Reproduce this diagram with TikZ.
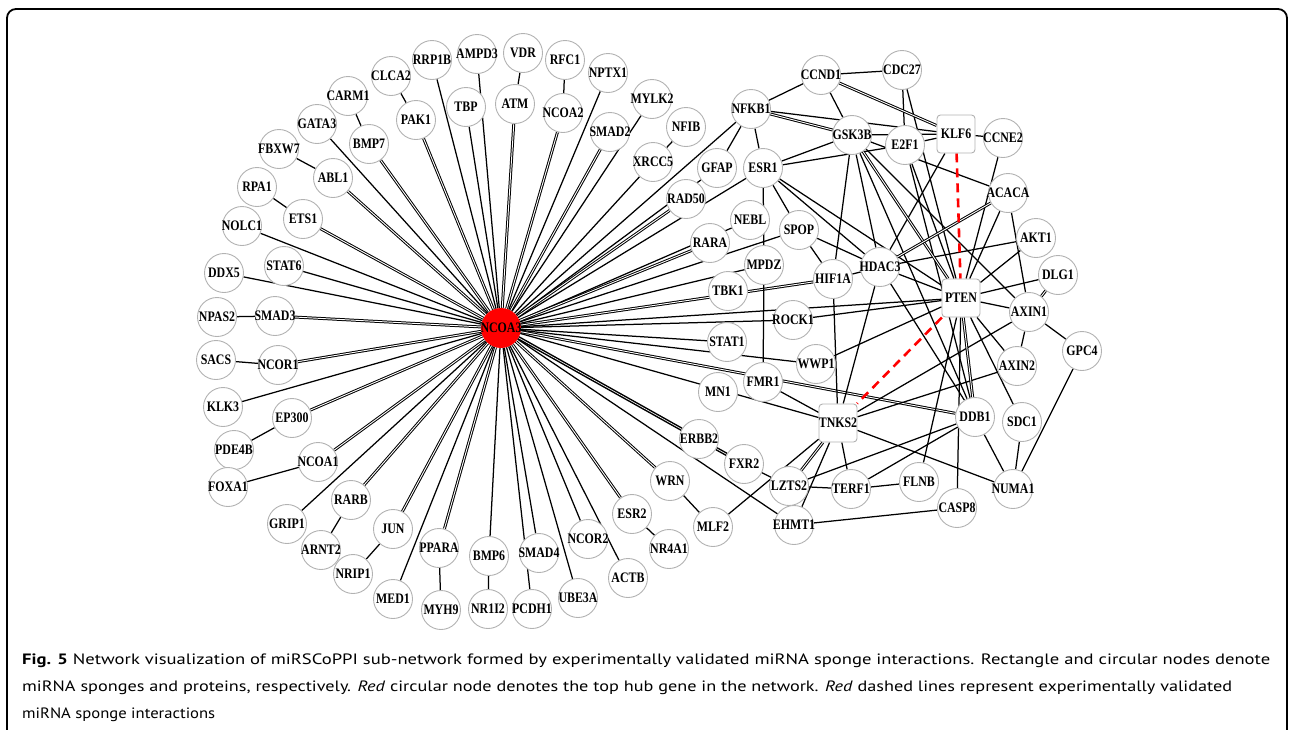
\documentclass[tikz,border=0pt]{standalone}
\usepackage{fontspec}
\usepackage{graphicx}
\setmainfont{Liberation Serif}
\newfontfamily\capfont{PT Sans}
\pgfdeclarelayer{bg}
\pgfsetlayers{bg,main}
\newsavebox\capbox
\newcommand\fitline[2]{\sbox\capbox{#2}\pgfmathsetmacro\capratio{#1/\the\wd\capbox}\scalebox{\capratio}[1]{\usebox\capbox}}
\newcommand\lbl{\fontsize{14.5}{15}\selectfont\bfseries}
\newcommand\lb[1]{\makebox[0pt][c]{\scalebox{0.82}[1]{#1}}}
\begin{document}
\begin{tikzpicture}[x=1pt,y=-1pt,
  pn/.style={circle,draw=gray!60,fill=white,line width=0.9pt,minimum size=39pt,inner sep=0pt,font=\lbl},
  sq/.style={rectangle,rounded corners=3.5pt,draw=gray!60,fill=white,line width=0.9pt,minimum size=38pt,inner sep=0pt,font=\lbl},
  hub/.style={pn,fill=red,draw=red},
  ed/.style={line width=1.25pt},
  dbl/.style={double,double distance=0.9pt,line width=1pt},
  dblthick/.style={double,double distance=0.6pt,line width=1.5pt},
  rd/.style={red,line width=2.6pt,dash pattern=on 9pt off 6pt},
  capt/.style={anchor=base west,inner sep=0pt,font=\capfont\fontsize{15}{17}\selectfont}]
\useasboundingbox (0,0) rectangle (1290,729);
\draw[line width=1.8pt,rounded corners=9pt] (7,735) -- (7,9) -- (1287,9) -- (1287,735);
% hub
\node[hub] (NCOA3) at (501,328) {\lb{NCOA3}};
\foreach \n/\x/\y in {RRP1B/432/60,AMPD3/477/54,VDR/523/53,RFC1/565/60,NPTX1/608/73,MYLK2/652/99,NFIB/686/127,
  CLCA2/391/76,CARM1/348/96,GATA3/317/124,FBXW7/279/149,RPA1/257/187,NOLC1/242/226,DDX5/224/273,NPAS2/217/317,
  SACS/216/360,KLK3/223/407,PDE4B/234/450,FOXA1/228/487,GRIP1/287/524,ARNT2/321/550,NRIP1/353/574,MED1/393/599,
  MYH9/441/610,NR1I2/488/609,PCDH1/532/609,UBE3A/578/598,ACTB/628/578,NR4A1/669/549,MLF2/713/527,
  PAK1/416/120,TBP/466/107,ATM/515/104,NCOA2/563/113,SMAD2/610/132,XRCC5/653/162,BMP7/369/144,ABL1/333/178,
  ETS1/303/219,STAT6/284/266,SMAD3/275/316,NCOR1/278/365,EP300/292/418,NCOA1/318/462,RARB/351/500,JUN/393/529,
  PPARA/439/548,BMP6/489/556,SMAD4/539/553,NCOR2/588/539,ESR2/632/514,WRN/670/481,ERBB2/699/439,FXR2/744/464,
  CCND1/821/75,CDC27/902/70,NFKB1/751/109,GSK3B/852/135,E2F1/905/145,CCNE2/1003/138,GFAP/717/168,ESR1/763/168,
  RAD50/686/199,ACACA/1008/193,NEBL/750/220,RARA/710/243,SPOP/799/230,AKT1/1036/238,MPDZ/764/265,HDAC3/880/267,
  HIF1A/833/279,DLG1/1058/275,TBK1/728/291,AXIN1/1029/312,ROCK1/793/320,STAT1/727/342,GPC4/1082/351,WWP1/816/364,
  AXIN2/1017/366,FMR1/763/382,MN1/718/392,DDB1/975/417,SDC1/1022/422,LZTS2/789/486,TERF1/851/489,FLNB/919/482,
  NUMA1/1013/489,CASP8/957/508,EHMT1/794/525}
  \node[pn] (\n) at (\x,\y) {\lb{\n}};
\node[sq] (KLF6) at (956,134) {\lb{KLF6}};
\node[sq] (PTEN) at (961,298) {\lb{PTEN}};
\node[sq] (TNKS2) at (838,423) {\lb{TNKS2}};
\begin{pgfonlayer}{bg}
\foreach \b in {RRP1B,AMPD3,TBP,NPTX1,MYLK2,XRCC5,GATA3,NOLC1,DDX5,STAT6,KLK3,GRIP1,MED1,BMP6,PCDH1,SMAD4,UBE3A,
  NCOR2,ACTB,EHMT1,TNKS2,WWP1,STAT1,ROCK1,PTEN,MPDZ,SPOP,NEBL,ESR1,GFAP,NFKB1}
  \draw[ed] (NCOA3) -- (\b);
\foreach \b in {ATM,NCOA2,SMAD2,PAK1,BMP7,ABL1,ETS1,SMAD3,NCOR1,EP300,NCOA1,RARB,JUN,PPARA,ESR2,WRN,DDB1,HIF1A,RARA,RAD50}
  \draw[dbl] (NCOA3) -- (\b);
\draw[dblthick] (NCOA3) -- (ERBB2);
\draw[dblthick] (ERBB2) -- (FXR2);
\foreach \a/\b in {VDR/ATM,RFC1/NCOA2,NFIB/XRCC5,CLCA2/PAK1,CARM1/BMP7,FBXW7/ABL1,RPA1/ETS1,NPAS2/SMAD3,SACS/NCOR1,
  PDE4B/EP300,FOXA1/NCOA1,ARNT2/RARB,NRIP1/JUN,MYH9/PPARA,NR1I2/BMP6,NR4A1/ESR2,MLF2/WRN,
  CCND1/CDC27,CCND1/NFKB1,CCND1/GSK3B,CDC27/E2F1,CDC27/PTEN,NFKB1/KLF6,NFKB1/ESR1,NFKB1/GFAP,GSK3B/KLF6,E2F1/KLF6,
  KLF6/CCNE2,ESR1/GSK3B,ESR1/E2F1,GSK3B/ACACA,CCNE2/PTEN,KLF6/HDAC3,ESR1/SPOP,ESR1/HDAC3,ESR1/PTEN,ESR1/MPDZ,
  MPDZ/FMR1,SPOP/HIF1A,SPOP/HDAC3,GSK3B/HIF1A,GSK3B/HDAC3,GSK3B/AXIN1,GSK3B/DDB1,E2F1/PTEN,E2F1/DDB1,HDAC3/AKT1,
  HIF1A/HDAC3,HDAC3/PTEN,PTEN/DLG1,PTEN/AKT1,PTEN/ACACA,ACACA/AXIN1,PTEN/AXIN1,AXIN1/AXIN2,AXIN1/GPC4,PTEN/AXIN2,
  PTEN/SDC1,PTEN/CASP8,PTEN/FLNB,ROCK1/PTEN,WWP1/PTEN,HDAC3/TNKS2,HIF1A/TNKS2,HDAC3/DDB1,TNKS2/AXIN1,TNKS2/AXIN2,
  TNKS2/NUMA1,TNKS2/EHMT1,TNKS2/TERF1,TNKS2/FMR1,MLF2/TNKS2,LZTS2/TERF1,TERF1/FLNB,TERF1/DDB1,LZTS2/DDB1,
  EHMT1/CASP8,DDB1/NUMA1,SDC1/NUMA1,GPC4/NUMA1,FXR2/LZTS2}
  \draw[ed] (\a) -- (\b);
\foreach \a/\b in {CCND1/KLF6,NFKB1/GSK3B,GSK3B/PTEN,HDAC3/ACACA,DLG1/AXIN1,TNKS2/LZTS2,PTEN/DDB1}
  \draw[dbl] (\a) -- (\b);
\draw[rd] (KLF6) -- (PTEN);
\draw[rd] (PTEN) -- (TNKS2);
\end{pgfonlayer}
% caption
\node[capt] (cap1) at (22,664) {\fitline{1248}{\textbf{Fig. 5} Network visualization of miRSCoPPI sub-network formed by experimentally validated miRNA sponge interactions. Rectangle and circular nodes denote}};
\node[capt] (cap2) at (22,691) {\fitline{1210}{miRNA sponges and proteins, respectively. \textit{Red} circular node denotes the top hub gene in the network. \textit{Red} dashed lines represent experimentally validated}};
\node[capt] (cap3) at (22,718) {\fitline{193}{miRNA sponge interactions}};
\end{tikzpicture}
\end{document}
